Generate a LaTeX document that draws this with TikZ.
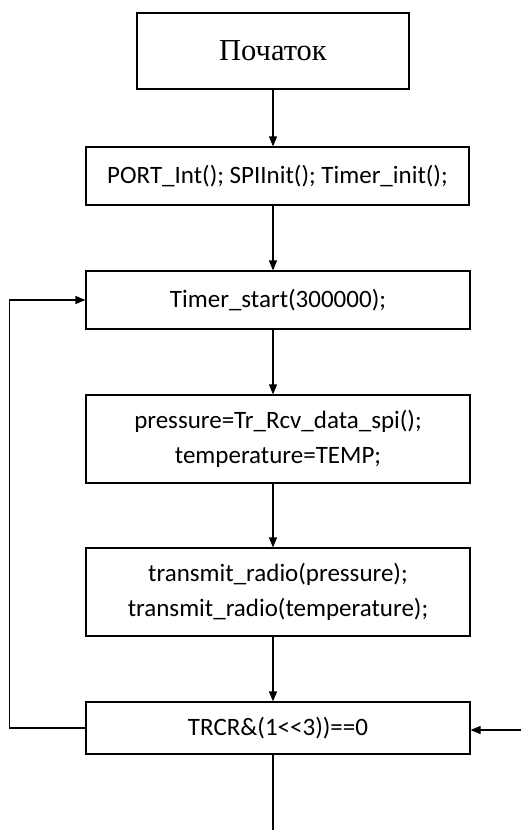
\documentclass[tikz,border=0pt]{standalone}
\usepackage{fontspec}
\setmainfont{Liberation Serif}
\newfontfamily\codefont{Carlito}
\usetikzlibrary{arrows.meta}
\begin{document}
\begin{tikzpicture}[x=1pt,y=1pt,
  box/.style={draw, line width=1.2pt, minimum width=384pt, align=center, inner sep=0pt,
    font=\codefont\fontsize{25}{35}\selectfont},
  flow/.style={line width=1.2pt, -{Triangle[length=10pt,width=8pt]}},
  plain/.style={line width=1.2pt}]
\useasboundingbox (0,0) rectangle (521,-830);
\coordinate (axis) at (273,0);
\node[draw, line width=1.2pt, minimum width=272pt, minimum height=76pt, inner sep=0pt,
      font=\fontsize{30.5}{34}\selectfont] (start) at (273,-51) {Початок};
\node[box, minimum width=383pt, minimum height=58pt] (init) at (277.5,-176)
  {PORT\_Int(); SPIInit(); Timer\_init();};
\node[box, minimum height=58pt] (timer) at (278,-300) {Timer\_start(300000);};
\node[box, minimum height=88pt] (read) at (278,-439)
  {pressure=Tr\_Rcv\_data\_spi();\\temperature=TEMP;};
\node[box, minimum height=88pt] (send) at (278,-592)
  {transmit\_radio(pressure);\\transmit\_radio(temperature);};
\node[box, minimum height=52pt] (check) at (278,-728) {TRCR\&(1<{}<3))==0};
\coordinate (rin) at (521,-730);
\coordinate (out) at (273,-830);
\draw[flow] (start.south) -- (start.south |- init.north);
\draw[flow] (init.south -| axis) -- (timer.north -| axis);
\draw[flow] (timer.south -| axis) -- (read.north -| axis);
\draw[flow] (read.south -| axis) -- (send.north -| axis);
\draw[flow] (send.south -| axis) -- (check.north -| axis);
\draw[flow] (check.west) -- ++(-76,0) |- (timer.west);
\draw[flow] (rin) -- (rin -| check.east);
\draw[plain] (check.south -| axis) -- (out);
\end{tikzpicture}
\end{document}
